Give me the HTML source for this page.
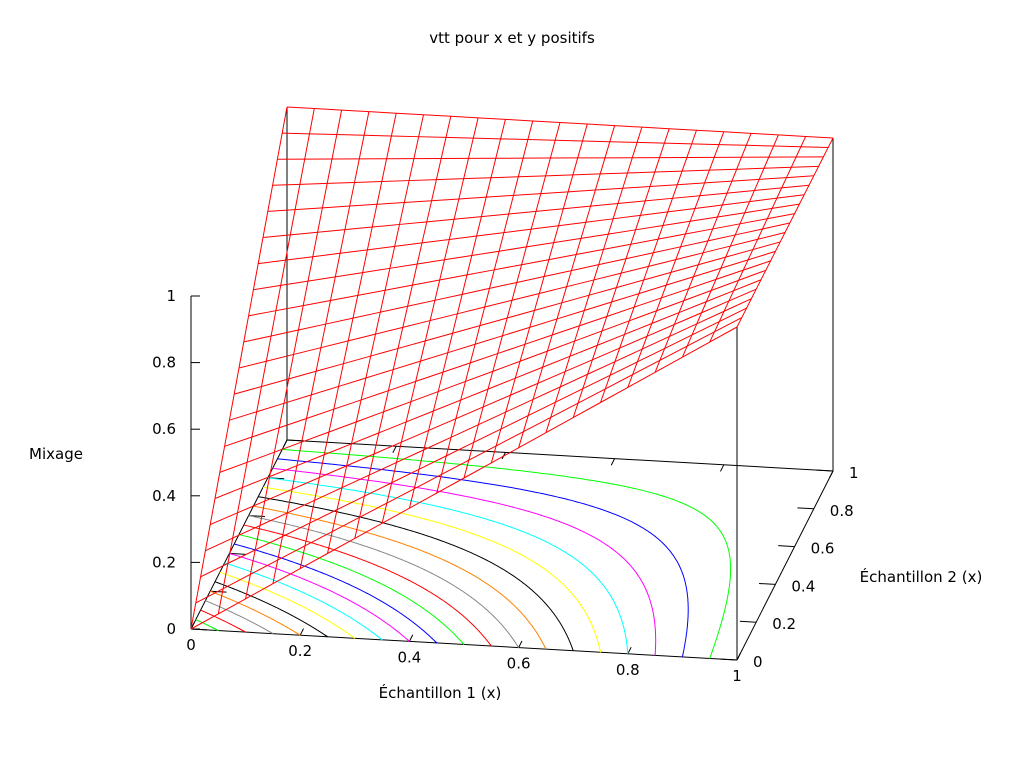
<!DOCTYPE html>
<html><head><meta charset="utf-8"><style>
html,body{margin:0;padding:0;background:#fff;}
svg{display:block;font-family:"DejaVu Sans","Liberation Sans",sans-serif;font-size:15px;}
</style></head><body>
<svg id="chart" width="1024" height="768" viewBox="0 0 1024 768" xmlns="http://www.w3.org/2000/svg">
<text x="512" y="43" text-anchor="middle">vtt pour x et y positifs</text>
<text x="440" y="698" text-anchor="middle">Échantillon 1 (x)</text>
<text x="921" y="582" text-anchor="middle">Échantillon 2 (x)</text>
<text x="56" y="459" text-anchor="middle">Mixage</text>
<g id="axes"></g><g id="contours"></g><g id="mesh"></g>
</svg>
<script>
const xTicks=[0,0.2,0.4,0.6,0.8,1];
const yTicks=[0,0.2,0.4,0.6,0.8,1];
const zTicks=[0,0.2,0.4,0.6,0.8,1];
const zTickLabels=["0","0.2","0.4","0.6","0.8","1"];
const contourLevels=[0.95,0.9,0.85,0.8,0.75,0.7,0.65,0.6,0.55,0.5,0.45,0.4,0.35,0.3,0.25,0.2,0.15,0.1,0.05];
const contourColors=["#00ff00","#0000ff","#ff00ff","#00ffff","#ffff00","#000000","#ff8000","#888888","#ff0000"];
const meshSteps=20;
function surf(x,y){return x+y-x*y;}
function P(x,y,z){return [191+x*546+y*96, 629+x*31-y*189-z*333];}
const NS="http://www.w3.org/2000/svg";
function line(g,a,b,col,name){const l=document.createElementNS(NS,"line");
l.setAttribute("x1",a[0]);l.setAttribute("y1",a[1]);l.setAttribute("x2",b[0]);l.setAttribute("y2",b[1]);
l.setAttribute("stroke",col);l.setAttribute("stroke-width","1");


g.appendChild(l);return l;}
function text(g,x,y,s,anchor,name){const t=document.createElementNS(NS,"text");
t.setAttribute("x",x);t.setAttribute("y",y);t.setAttribute("text-anchor",anchor);t.textContent=s;


g.appendChild(t);}
const ax=document.getElementById("axes");
line(ax,P(0,0,0),P(1,0,0),"#000","x-axis-line");
line(ax,P(1,0,0),P(1,1,0),"#000","y-axis-line");
line(ax,P(0,0,0),P(0,1,0),"#000","back-left-border");
line(ax,P(0,1,0),P(1,1,0),"#000","back-border");
line(ax,P(0,1,0),P(0,1,1),"#000","back-vertical-border");
line(ax,P(1,1,0),P(1,1,1),"#000","right-vertical-border");
line(ax,P(1,0,0),P(1,0,1),"#000","front-vertical-border");
line(ax,P(0,0,0),P(0,0,1),"#000","z-axis-line");
xTicks.forEach(v=>{const a=P(v,0,0),b=P(v,0.035,0);line(ax,a,b,"#000","x-tick");
 const c=P(v,1,0),d=P(v,0.965,0);line(ax,c,d,"#000","x-tick-mirror");
 text(ax,a[0],a[1]+21,String(v),"middle","x-tick-label");});
yTicks.forEach(v=>{const a=P(1,v,0),b=P(0.97,v,0);line(ax,a,b,"#000","y-tick");
 const c=P(0,v,0),d=P(0.03,v,0);line(ax,c,d,"#000","y-tick-mirror");
 text(ax,a[0]+16,a[1]+7,String(v),"start","y-tick-label");});
zTicks.forEach((v,i)=>{const a=P(0,0,v);line(ax,a,[a[0]+9,a[1]],"#000","z-tick");
 text(ax,a[0]-15,a[1]+5,zTickLabels[i],"end","z-tick-label");});
const cg=document.getElementById("contours");
contourLevels.forEach((c,i)=>{const pts=[];const N=300;
 for(let k=0;k<=N;k++){const t=k/N;const x=c*(1-Math.pow(1-t,3));const y=1-(1-c)/(1-x);
  if(y<0)continue;const p=P(x,Math.min(1,y),0);pts.push(p[0].toFixed(1)+","+p[1].toFixed(1));}
 const pl=document.createElementNS(NS,"polyline");
 pl.setAttribute("points",pts.join(" "));pl.setAttribute("fill","none");
 pl.setAttribute("stroke",contourColors[i%contourColors.length]);pl.setAttribute("stroke-width","1");
 
 
 cg.appendChild(pl);});
const mg=document.getElementById("mesh");
for(let i=0;i<=meshSteps;i++){const u=i/meshSteps;const a=[],b=[];
 for(let j=0;j<=meshSteps;j++){const v=j/meshSteps;const p=P(u,v,surf(u,v));a.push(p.join(","));
  const q=P(v,u,surf(v,u));b.push(q.join(","));}
 [a,b].forEach(pts=>{const pl=document.createElementNS(NS,"polyline");
  pl.setAttribute("points",pts.join(" "));pl.setAttribute("fill","none");
  pl.setAttribute("stroke","#ff0000");pl.setAttribute("stroke-width","1");
  
  
  mg.appendChild(pl);});}
</script>
</body></html>
